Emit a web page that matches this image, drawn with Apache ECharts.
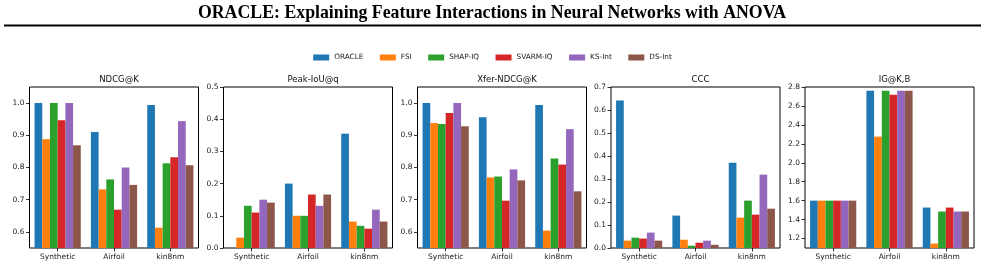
<!DOCTYPE html>
<html>
<head>
<meta charset="utf-8">
<script src="https://cdn.jsdelivr.net/npm/echarts@6/dist/echarts.min.js"></script>
<style>
html,body{margin:0;padding:0;background:#fff;}
#chart{width:985px;height:268px;}
</style>
</head>
<body>
<div id="chart"></div>
<script>
const categories = ['Synthetic', 'Airfoil', 'kin8nm'];
const methods = ['ORACLE', 'FSI', 'SHAP-IQ', 'SVARM-IQ', 'KS-Int', 'DS-Int'];
const colors = ['#1f77b4', '#ff7f0e', '#2ca02c', '#d62728', '#9467bd', '#8c564b'];
const panelTitles = ['NDCG@K', 'Peak-IoU@q', 'Xfer-NDCG@K', 'CCC', 'IG@K,B'];

// values per method: [Synthetic, Airfoil, kin8nm]
const ndcg = {
  'ORACLE':   [1.000, 0.910, 0.994],
  'FSI':      [0.888, 0.732, 0.613],
  'SHAP-IQ':  [1.000, 0.763, 0.813],
  'SVARM-IQ': [0.947, 0.669, 0.832],
  'KS-Int':   [1.000, 0.800, 0.944],
  'DS-Int':   [0.869, 0.746, 0.807]
};
const peakIoU = {
  'ORACLE':   [0.000, 0.200, 0.355],
  'FSI':      [0.032, 0.100, 0.082],
  'SHAP-IQ':  [0.131, 0.100, 0.069],
  'SVARM-IQ': [0.110, 0.166, 0.060],
  'KS-Int':   [0.150, 0.131, 0.119],
  'DS-Int':   [0.141, 0.166, 0.082]
};
const xferNdcg = {
  'ORACLE':   [1.000, 0.956, 0.994],
  'FSI':      [0.938, 0.769, 0.604],
  'SHAP-IQ':  [0.935, 0.772, 0.828],
  'SVARM-IQ': [0.969, 0.697, 0.809],
  'KS-Int':   [1.000, 0.794, 0.919],
  'DS-Int':   [0.928, 0.760, 0.726]
};
const ccc = {
  'ORACLE':   [0.641, 0.141, 0.371],
  'FSI':      [0.032, 0.036, 0.132],
  'SHAP-IQ':  [0.045, 0.010, 0.206],
  'SVARM-IQ': [0.041, 0.023, 0.145],
  'KS-Int':   [0.067, 0.032, 0.319],
  'DS-Int':   [0.032, 0.014, 0.171]
};
const igkb = {
  'ORACLE':   [1.600, 2.761, 1.527],
  'FSI':      [1.600, 2.276, 1.147],
  'SHAP-IQ':  [1.600, 2.761, 1.485],
  'SVARM-IQ': [1.600, 2.719, 1.527],
  'KS-Int':   [1.600, 2.761, 1.485],
  'DS-Int':   [1.600, 2.761, 1.485]
};

const yTicks1 = [0.6, 0.7, 0.8, 0.9, 1.0];
const yTicks2 = [0.0, 0.1, 0.2, 0.3, 0.4, 0.5];
const yTicks3 = [0.6, 0.7, 0.8, 0.9, 1.0];
const yTicks4 = [0.0, 0.1, 0.2, 0.3, 0.4, 0.5, 0.6, 0.7];
const yTicks5 = [1.2, 1.4, 1.6, 1.8, 2.0, 2.2, 2.4, 2.6, 2.8];
const yRanges = [[0.55, 1.05], [0, 0.5], [0.55, 1.05], [0, 0.7], [1.1, 2.8]];

const panelData = [ndcg, peakIoU, xferNdcg, ccc, igkb];
const panelTicks = [yTicks1, yTicks2, yTicks3, yTicks4, yTicks5];

const gridLefts = [29.5, 223.5, 417.5, 611, 805];
const gridWidth = 169;
const gridTop = 87;
const gridHeight = 161;

const FONT = 'DejaVu Sans';
const grids = [], xAxes = [], yAxes = [], series = [], titles = [];

titles.push({
  text: 'ORACLE: Explaining Feature Interactions in Neural Networks with ANOVA',
  left: 487, top: -1, textAlign: 'center',
  textStyle: {fontFamily: 'Liberation Serif', fontWeight: 'bold', fontSize: 17.8, color: '#000'}
});

panelData.forEach((pd, i) => {
  grids.push({
    left: gridLefts[i], top: gridTop, width: gridWidth, height: gridHeight,
    show: true, borderColor: '#000', borderWidth: 1, backgroundColor: 'transparent'
  });
  titles.push({
    text: panelTitles[i],
    left: gridLefts[i] + gridWidth / 2, top: gridTop - 17, textAlign: 'center',
    textStyle: {fontFamily: FONT, fontWeight: 'normal', fontSize: 8.5, color: '#111'}
  });
  xAxes.push({
    type: 'category', gridIndex: i, data: categories,
    axisLine: {show: false},
    axisTick: {show: true, alignWithLabel: true, length: 3.5, lineStyle: {color: '#000', width: 0.8}},
    axisLabel: {fontFamily: FONT, fontSize: 7.5, color: '#1a1a1a', margin: 5.5}
  });
  const ticks = panelTicks[i];
  yAxes.push({
    type: 'value', gridIndex: i, min: yRanges[i][0], max: yRanges[i][1],
    splitLine: {show: false},
    axisLine: {show: false},
    axisTick: {show: true, length: 3.5, lineStyle: {color: '#000', width: 0.8}, customValues: ticks},
    axisLabel: {fontFamily: FONT, fontSize: 7.5, color: '#1a1a1a', margin: 5,
      customValues: ticks, formatter: v => v.toFixed(1)}
  });
  methods.forEach((m, j) => {
    series.push({
      type: 'bar', name: m, xAxisIndex: i, yAxisIndex: i,
      data: pd[m], barGap: '0%', barCategoryGap: '18%',
      itemStyle: {color: colors[j]}, animation: false, silent: true
    });
  });
});

const chart = echarts.init(document.getElementById('chart'), null, {renderer: 'canvas'});
chart.setOption({
  animation: false,
  title: titles,
  legend: {
    data: methods, top: 49, left: 'center',
    itemWidth: 16, itemHeight: 6, itemGap: 16.5,
    icon: 'rect',
    textStyle: {fontFamily: FONT, fontSize: 7.3, color: '#1a1a1a'}
  },
  grid: grids,
  xAxis: xAxes,
  yAxis: yAxes,
  series: series,
  graphic: [{
    type: 'line', shape: {x1: 4, y1: 25.5, x2: 981, y2: 25.5},
    style: {stroke: '#000', lineWidth: 2}
  }]
});
</script>
</body>
</html>
